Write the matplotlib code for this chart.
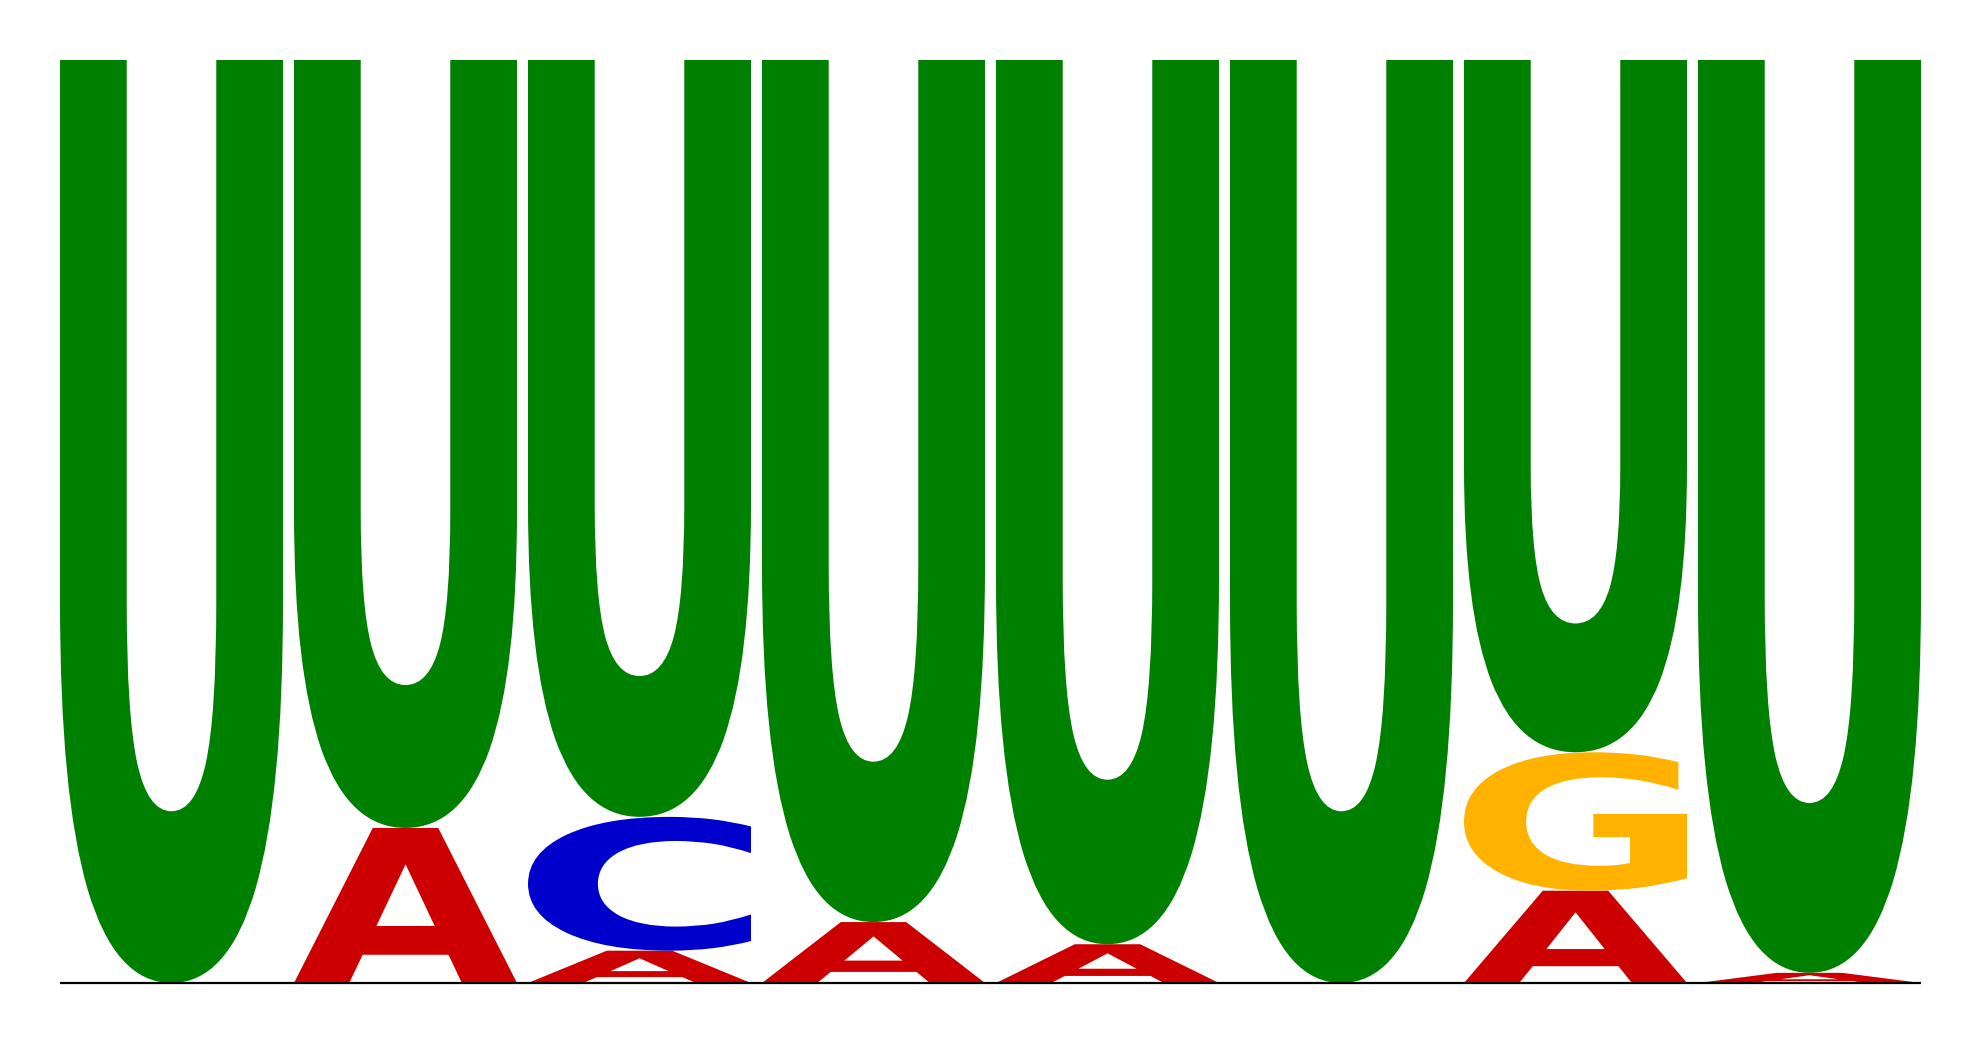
import matplotlib
matplotlib.use("Agg")
import matplotlib.pyplot as plt
from matplotlib.textpath import TextPath
from matplotlib.patches import PathPatch
from matplotlib.font_manager import FontProperties
from matplotlib.transforms import Affine2D

# letter frequencies per position (columns sum to 1)
positions = [1, 2, 3, 4, 5, 6, 7, 8]
freq_A = [0.0, 0.168, 0.035, 0.066, 0.042, 0.0, 0.100, 0.011]
freq_C = [0.0, 0.0, 0.145, 0.0, 0.0, 0.0, 0.0, 0.0]
freq_G = [0.0, 0.0, 0.0, 0.0, 0.0, 0.0, 0.150, 0.0]
freq_U = [1 - a - c - g for a, c, g in zip(freq_A, freq_C, freq_G)]

colors = {"A": "#CC0000", "C": "#0000CC", "G": "#FFB300", "U": "#008000"}

W, H = 1980, 1044
fig = plt.figure(figsize=(W / 100, H / 100), dpi=100)
left, right, top, base = 60, 1921, 60, 983
ax = fig.add_axes([left / W, (H - base) / H, (right - left) / W, (base - top) / H])

pitch = 234.0
col_w = 223.0 / pitch
ax.set_xlim(0, len(positions) - 1 + col_w)
ax.set_ylim(0, 1)
ax.axis("off")

fp = FontProperties(family="DejaVu Sans", weight="bold")


def draw_letter(ch, x, y, w, h):
    tp = TextPath((0, 0), ch, size=1, prop=fp)
    bb = tp.get_extents()
    tr = (Affine2D().translate(-bb.x0, -bb.y0)
          .scale(w / bb.width, h / bb.height)
          .translate(x, y))
    path = tr.transform_path(tp)
    ax.add_patch(PathPatch(path, facecolor=colors[ch], edgecolor="none", lw=0))


for i in range(len(positions)):
    stack = [("A", freq_A[i]), ("C", freq_C[i]), ("G", freq_G[i]), ("U", freq_U[i])]
    stack = sorted([s for s in stack if s[1] > 0], key=lambda s: s[1])
    y = 0.0
    for ch, f in stack:
        draw_letter(ch, i, y, col_w, f)
        y += f

ax.plot([0, len(positions) - 1 + col_w], [0, 0], color="black", lw=1.6,
        solid_capstyle="butt", clip_on=False, zorder=5)

fig.savefig("out.png", dpi=100, facecolor="white")
